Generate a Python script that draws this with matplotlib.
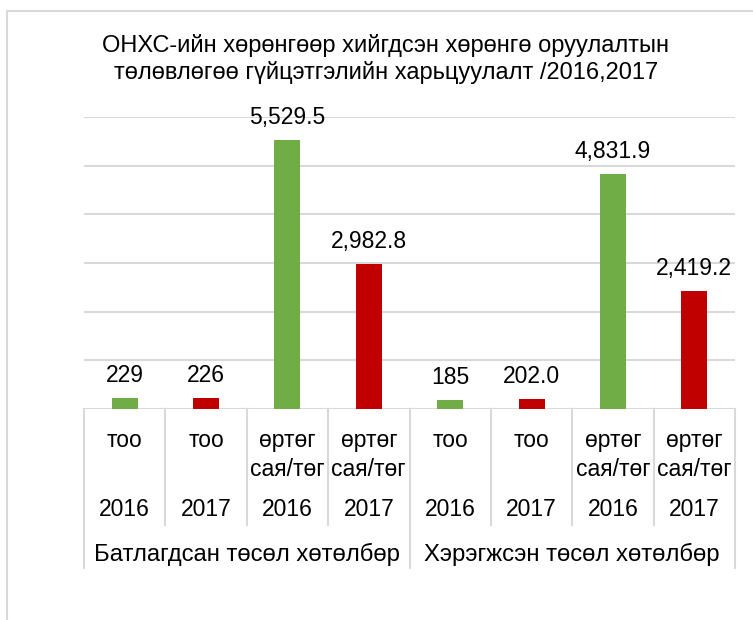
import matplotlib
matplotlib.use("Agg")
import matplotlib.pyplot as plt
from matplotlib.transforms import blended_transform_factory
from matplotlib.patches import Rectangle

plt.rcParams['font.family'] = ['Liberation Sans', 'DejaVu Sans']

title = "ОНХС-ийн хөрөнгөөр хийгдсэн хөрөнгө оруулалтын\nтөлөвлөгөө гүйцэтгэлийн харьцуулалт /2016,2017"
measures = ["тоо", "тоо", "өртөг\nсая/төг", "өртөг\nсая/төг",
            "тоо", "тоо", "өртөг\nсая/төг", "өртөг\nсая/төг"]
years = ["2016", "2017", "2016", "2017", "2016", "2017", "2016", "2017"]
groups = ["Батлагдсан төсөл хөтөлбөр", "Хэрэгжсэн төсөл хөтөлбөр"]
values = [229, 226, 5529.5, 2982.8, 185, 202.0, 4831.9, 2419.2]
value_labels = ["229", "226", "5,529.5", "2,982.8", "185", "202.0", "4,831.9", "2,419.2"]
colors = ["#70AD47", "#C00000", "#70AD47", "#C00000",
          "#70AD47", "#C00000", "#70AD47", "#C00000"]

W, H = 753, 620
fig = plt.figure(figsize=(W / 100, H / 100), dpi=100)

def fy(y):
    return (H - y) / H

def fx(x):
    return x / W

# outer chart border
fig.patches.append(Rectangle((fx(7), fy(700)), 2, fy(11) - fy(700),
                             transform=fig.transFigure, fill=False,
                             edgecolor="#D9D9D9", linewidth=1.5))

left, right, top, bottom = 84, 735, 117, 409
ax = fig.add_axes([fx(left), fy(bottom), fx(right) - fx(left), fy(top) - fy(bottom)])

x = list(range(len(values)))
ax.bar(x, values, width=0.32, color=colors, zorder=3)
ax.set_xlim(-0.5, len(values) - 0.5)
ax.set_ylim(0, 6000)
ax.set_yticks(range(0, 6001, 1000))
ax.yaxis.grid(True, color="#D9D9D9", linewidth=1.5, zorder=0)
ax.set_xticks([])
ax.tick_params(axis='y', length=0, labelleft=False)
for s in ax.spines.values():
    s.set_visible(False)

for xi, v, lab in zip(x, values, value_labels):
    ax.annotate(lab, (xi, v), xytext=(0, 11.5), textcoords="offset points",
                ha="center", va="baseline", fontsize=16.5, color="#000000")

tr = blended_transform_factory(ax.transData, fig.transFigure)

# category box lines
n = len(values)
for i in range(n + 1):
    xb = i - 0.5
    yend = 568 if i % 4 == 0 else 525
    ax.plot([xb, xb], [fy(bottom), fy(yend)], transform=tr, color="#D9D9D9",
            linewidth=1.5, clip_on=False, zorder=1)

for xi, m, yr in zip(x, measures, years):
    ax.text(xi, fy(429), m, transform=tr, ha="center", va="top",
            fontsize=16.5, linespacing=1.32)
    ax.text(xi, fy(510), yr, transform=tr, ha="center", va="center", fontsize=16.5)

for gi, g in enumerate(groups):
    ax.text(gi * 4 + 1.5, fy(554), g, transform=tr, ha="center", va="center",
            fontsize=17.2)

fig.text(fx(386), fy(59), title, ha="center", va="center", fontsize=17,
         linespacing=1.22)

fig.savefig("out.png", dpi=100)
